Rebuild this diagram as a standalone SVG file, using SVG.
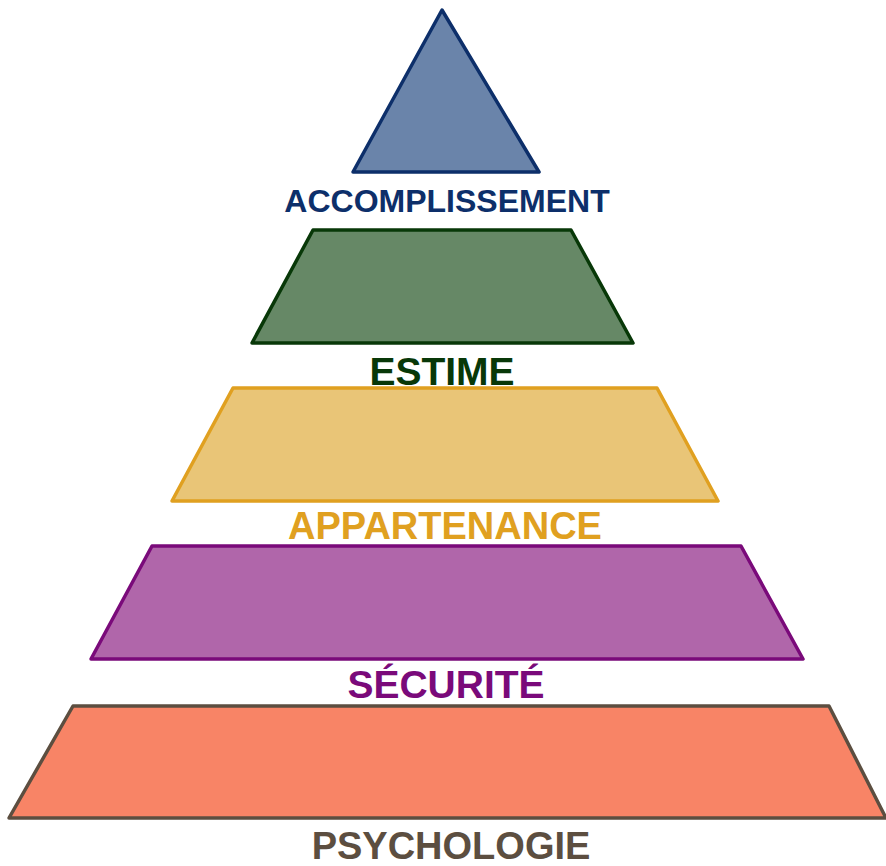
<svg xmlns="http://www.w3.org/2000/svg" width="886" height="866" viewBox="0 0 886 866">
<style>
.s{stroke-width:3.5;stroke-linejoin:round}
.t{font-family:"Liberation Sans",Arial,sans-serif;font-weight:bold;text-anchor:middle}
</style>
<rect width="886" height="866" fill="#ffffff"/>
<g id="accomplissement">
<polygon class="s" points="442,10 539,172 353,172" fill="#6a84aa" stroke="#0d2f6a"/>
<text class="t" x="447" y="212" font-size="32" fill="#0d2f6a">ACCOMPLISSEMENT</text>
</g>
<g id="estime">
<polygon class="s" points="313,230 571,230 633,343 252,343" fill="#668866" stroke="#083808"/>
<text class="t" x="442" y="385" font-size="39" fill="#083808">ESTIME</text>
</g>
<g id="appartenance">
<polygon class="s" points="233,388 657,388 718,501 172,501" fill="#e9c577" stroke="#e0a020"/>
<text class="t" x="445" y="539" font-size="38" fill="#e0a020">APPARTENANCE</text>
</g>
<g id="securite">
<polygon class="s" points="152,546 741,546 803,659 91,659" fill="#b066aa" stroke="#7a0a7a"/>
<text class="t" x="446" y="698" font-size="39" fill="#7a0a7a">SÉCURITÉ</text>
</g>
<g id="psychologie">
<polygon class="s" points="73,706 829,706 886,818 9,818" fill="#f88466" stroke="#5c4e40"/>
<text class="t" x="451" y="859" font-size="38" fill="#5c4e40">PSYCHOLOGIE</text>
</g>
<g id="connectors"></g>
</svg>
